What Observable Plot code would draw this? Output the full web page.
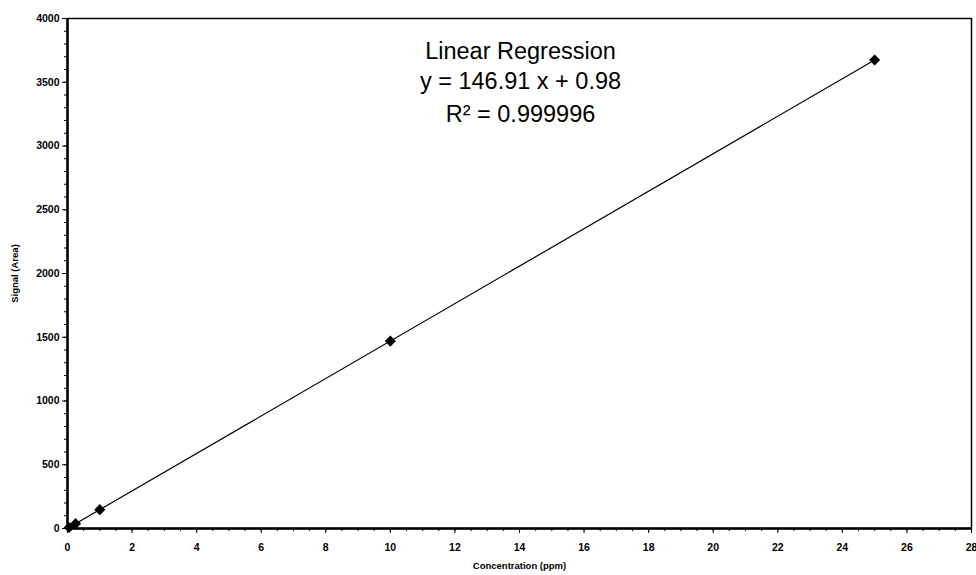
<!DOCTYPE html>
<html><head><meta charset="utf-8">
<script src="https://cdn.jsdelivr.net/npm/d3@7"></script>
<script src="https://cdn.jsdelivr.net/npm/@observablehq/plot@0.6"></script>
<style>
body{margin:0;background:#fff;font-family:"Liberation Sans",Arial,sans-serif;}
svg{overflow:visible}
</style></head><body><div id="chart"></div>
<script>
const concentration = [0.05, 0.25, 1, 10, 25];
const signal = [8, 38, 148, 1470, 3674];
const xTicks = [0,2,4,6,8,10,12,14,16,18,20,22,24,26,28];
const yTicks = [0,500,1000,1500,2000,2500,3000,3500,4000];
const annotation = ["Linear Regression", "y = 146.91 x + 0.98", "R\u00B2 = 0.999996"];

const data = concentration.map((c,i)=>({x:c, y:signal[i]}));
const xMinor = d3.range(0, 28.01, 0.5);
const yMinor = d3.range(0, 4001, 100);
const fmt = d => String(d);
const lineDy = [33, 63, 96];

const chart = Plot.plot({
  width: 976, height: 575,
  marginLeft: 67, marginRight: 5, marginTop: 18, marginBottom: 47,
  style: {fontFamily: '"Liberation Sans", Arial, sans-serif', background: "#fff"},
  x: {type: "linear", domain: [0, 28], label: null},
  y: {type: "linear", domain: [0, 4000], label: null},
  marks: [
    Plot.frame({stroke: "#000", strokeWidth: 1.5}),
    Plot.axisX(xMinor, {tickSize: 3, tickFormat: () => "", stroke: "#000", label: null}),
    Plot.axisY(yMinor, {tickSize: 3, tickFormat: () => "", stroke: "#000", label: null}),
    Plot.axisX(xTicks, {tickSize: 5, tickPadding: 10, fontSize: 10.5, fontWeight: "bold", stroke: "#000", fill: "#000",
      tickFormat: fmt, label: "Concentration (ppm)", labelArrow: "none", labelAnchor: "center", labelOffset: 40}),
    Plot.axisY(yTicks, {tickSize: 5, tickPadding: 3, fontSize: 10.5, fontWeight: "bold", stroke: "#000", fill: "#000",
      tickFormat: fmt, label: "Signal (Area)", labelArrow: "none", labelAnchor: "center", labelOffset: 56}),
    Plot.ruleX([0], {stroke: "#000", strokeWidth: 2.5}),
    Plot.ruleY([0], {stroke: "#000", strokeWidth: 2.5}),
    Plot.linearRegressionY(data, {x: "x", y: "y", ci: 0, stroke: "#000", strokeWidth: 1.2}),
    Plot.dot(data, {x: "x", y: "y", symbol: "diamond2", r: 5, fill: "#000", stroke: "none"}),
    ...annotation.map((t, i) => Plot.text([t], {frameAnchor: "top", dx: 1, dy: lineDy[i], text: d=>d,
      fontSize: 23.5, fill: "#000", lineAnchor: "middle"}))
  ]
});
document.getElementById("chart").appendChild(chart);
chart.querySelectorAll('[aria-label="x-axis label"] text, [aria-label="y-axis label"] text').forEach(t=>{
  t.setAttribute("font-size", 9.5); t.setAttribute("font-weight", "bold");
});
</script></body></html>
